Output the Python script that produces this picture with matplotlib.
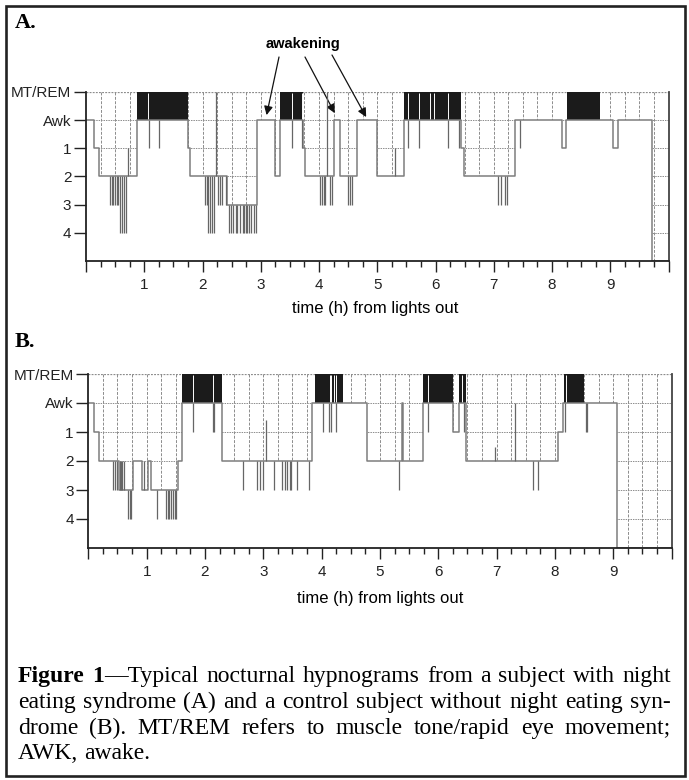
import numpy as np
import matplotlib
matplotlib.use('Agg')
import matplotlib.pyplot as plt
from matplotlib.patches import Rectangle

plt.rcParams['font.family'] = ['Liberation Sans', 'DejaVu Sans']

# ---------------- data ----------------
hour_ticks = [1, 2, 3, 4, 5, 6, 7, 8, 9]
stage_levels = [-1, 0, 1, 2, 3, 4]
stage_labels = ['MT/REM', 'Awk', '1', '2', '3', '4']

# Panel A (night eating syndrome): hypnogram change points (h), stage (0 = Awk / REM baseline, 5 = end)
a_time = [0.00, 0.13, 0.22, 0.88, 1.75, 1.79, 2.42, 2.94, 3.25, 3.33, 3.73, 3.76, 4.25, 4.36,
          4.66, 4.99, 5.46, 6.43, 6.49, 7.36, 8.17, 8.24, 9.05, 9.13, 9.71, 10.0]
a_stage = [0, 1, 2, 0, 1, 2, 3, 0, 2, 0, 1, 2, 0, 2,
           0, 2, 0, 1, 2, 0, 1, 0, 1, 0, 5, 5]
a_rem_start = [0.88, 3.33, 5.46, 8.25]
a_rem_end = [1.75, 3.73, 6.43, 8.82]
a_rem_gap = [1.06, 3.53, 3.70, 5.52, 5.72, 5.91, 5.97, 6.21]
a_spike_time = [0.41, 0.44, 0.47, 0.50, 0.53, 0.55, 0.59, 0.62, 0.66, 0.69, 0.72,
                1.08, 1.26,
                2.04, 2.07, 2.10, 2.13, 2.17, 2.20, 2.23, 2.27, 2.30, 2.34, 2.40,
                2.45, 2.49, 2.53, 2.57, 2.60, 2.64, 2.70, 2.72, 2.74, 2.76, 2.80, 2.84, 2.88, 2.92,
                3.53, 3.70,
                4.02, 4.05, 4.08, 4.10, 4.14, 4.19, 4.22, 4.50, 4.53, 4.57, 5.30,
                5.52, 5.72, 6.21, 6.40,
                7.08, 7.12, 7.19, 7.22, 7.45]
a_spike_to = [3, 3, 3, 3, 3, 3, 4, 4, 4, 4, 1,
              1, 1,
              3, 3, 4, 4, 4, 4, -1, 3, 3, 3, 3,
              4, 4, 4, 4, 4, 4, 4, 4, 4, 4, 4, 4, 4, 4,
              1, 1,
              3, 3, 3, 3, -1, 3, 3, 3, 3, 3, 1,
              1, 1, 1, 1,
              3, 3, 3, 3, 1]

# Panel B (control subject)
b_time = [0.00, 0.10, 0.19, 0.52, 0.76, 0.92, 1.03, 1.08, 1.53, 1.60, 2.29, 3.84, 4.77,
          5.37, 5.40, 5.73, 6.26, 6.36, 6.48, 8.06, 8.13, 9.06, 10.0]
b_stage = [0, 1, 2, 3, 2, 3, 2, 3, 2, 0, 2, 0, 2,
           0, 2, 0, 1, 0, 2, 1, 0, 5, 5]
b_rem_start = [1.60, 3.89, 5.73, 6.36, 8.16]
b_rem_end = [2.29, 4.37, 6.26, 6.48, 8.50]
b_rem_gap = [1.80, 2.14, 4.14, 4.16, 4.21, 4.24, 5.83, 6.41, 8.19]
b_spike_time = [0.43, 0.46, 0.49, 0.54, 0.56, 0.58, 0.61, 0.68, 0.71, 0.73, 0.95,
                1.18, 1.33, 1.36, 1.39, 1.42, 1.45, 1.48, 1.51,
                1.80, 2.14, 2.16,
                2.65, 2.90, 2.94, 2.99, 3.05, 3.19, 3.32, 3.37, 3.41, 3.46, 3.48, 3.57, 3.79,
                4.02, 4.13, 4.16, 4.25,
                5.33, 5.83, 6.44,
                6.97, 7.31, 7.63, 7.71, 8.18, 8.53, 8.55]
b_spike_to = [3, 3, 3, 2, 2, 2, 2, 4, 4, 4, 2,
              4, 4, 4, 4, 4, 4, 4, 4,
              1, 1, 1,
              3, 3, 3, 3, 0.6, 3, 3, 3, 3, 3, 3, 3, 3,
              1, 1, 1, 1,
              3, 1, 1,
              1.5, 0, 3, 3, 1, 1, 1]

caption_lines = [
    "Figure 1\u2014Typical nocturnal hypnograms from a subject with night",
    "eating syndrome (A) and a control subject without night eating syn-",
    "drome (B). MT/REM refers to muscle tone/rapid eye movement;",
    "AWK, awake.",
]
caption_bold = "Figure 1"

# ---------------- figure ----------------
W, H = 689, 780
fig = plt.figure(figsize=(W / 100, H / 100), dpi=100)
fig.patch.set_facecolor('white')


def px_axes(left, right, top, bottom):
    return fig.add_axes([left / W, 1 - bottom / H, (right - left) / W, (bottom - top) / H])


GRID = '#8c8c8c'


def draw_hypnogram(ax, t, s, rs, re, gaps, spt, spto):
    t = np.asarray(t, float)
    s = np.asarray(s, float)
    ax.set_xlim(0, 10)
    ax.set_ylim(5, -1)
    region = ax.fill_between(t, -1, s, step='post', facecolor='white',
                             edgecolor='none', zorder=1)
    clip = region.get_paths()[0]
    quarters = np.arange(0.25, 10, 0.25)
    vl = ax.vlines(quarters, -1, 5, colors=GRID, linestyles=(0, (3, 1.5)), lw=0.7, zorder=2)
    hl = ax.hlines([0, 1, 2, 3, 4], 0, 10, colors=GRID, linestyles=(0, (1.5, 1)), lw=0.7, zorder=2)
    for c in (vl, hl):
        c.set_clip_path(clip, ax.transData)
    ax.hlines(-1, 0, 10, colors=GRID, linestyles=(0, (1.5, 1)), lw=0.9, zorder=2)
    ax.broken_barh([(a, b - a) for a, b in zip(rs, re)], (-1, 1),
                   facecolors='#1b1b1b', edgecolor='none', zorder=3)
    ax.vlines(gaps, -0.97, 0, colors='white', lw=0.7, zorder=3.5)
    ax.step(t, s, where='post', color='#7d7d7d', lw=1.1, zorder=4)
    spt = np.asarray(spt, float)
    idx = np.searchsorted(t, spt, side='right') - 1
    ax.vlines(spt, s[idx], spto, colors='#666666', lw=0.9, zorder=4)

    ax.spines['top'].set_visible(False)
    for side in ('left', 'bottom', 'right'):
        ax.spines[side].set_linewidth(1.3)
        ax.spines[side].set_color('#222222')
        ax.spines[side].set_zorder(5)
    ax.spines['right'].set_color('#444444')
    ax.set_yticks(stage_levels, stage_labels)
    ax.tick_params(axis='y', direction='out', length=9, width=1, pad=1.5,
                   labelsize=11, colors='#222222')
    ax.set_xticks(range(0, 11))
    ax.set_xticklabels([str(h) if h in hour_ticks else '' for h in range(0, 11)])
    ax.set_xticks(np.arange(0, 10.01, 0.25), minor=True)
    ax.tick_params(axis='x', which='major', direction='out', length=8, width=1, pad=4,
                   labelsize=11, colors='#222222')
    ax.tick_params(axis='x', which='minor', direction='out', length=4, width=1,
                   colors='#222222')


axA = px_axes(86, 668.5, 92, 261)
draw_hypnogram(axA, a_time, a_stage, a_rem_start, a_rem_end, a_rem_gap, a_spike_time, a_spike_to)
axB = px_axes(88.3, 671.6, 374, 548)
draw_hypnogram(axB, b_time, b_stage, b_rem_start, b_rem_end, b_rem_gap, b_spike_time, b_spike_to)

fig.text(375 / W, 1 - 309 / H, 'time (h) from lights out', ha='center', va='center', fontsize=12)
fig.text(380 / W, 1 - 598 / H, 'time (h) from lights out', ha='center', va='center', fontsize=12)

serif = ['Liberation Serif', 'DejaVu Serif']
fig.text(15 / W, 1 - 28 / H, 'A.', family=serif, fontweight='bold', fontsize=16, va='baseline')
fig.text(15 / W, 1 - 347 / H, 'B.', family=serif, fontweight='bold', fontsize=16, va='baseline')

# awakening annotation
fig.text(303 / W, 1 - 44 / H, 'awakening', ha='center', va='center', fontsize=10.5,
         fontweight='bold')
arrow_tips = [(3.10, -0.18), (4.27, -0.25), (4.81, -0.11)]
arrow_tails = [(279, 57), (305, 57), (332, 55)]
for (tx, ty), (sx, sy) in zip(arrow_tips, arrow_tails):
    axA.annotate('', xy=(tx, ty), xycoords='data', xytext=(sx, H - sy),
                 textcoords='figure pixels', annotation_clip=False,
                 arrowprops=dict(arrowstyle='-|>', color='#111111', lw=0.9,
                                 mutation_scale=13, shrinkA=0, shrinkB=0))

# frame
fig.patches.append(Rectangle((5.5 / W, 4.5 / H), 679 / W, 770 / H, transform=fig.transFigure,
                             fill=False, edgecolor='#222222', lw=1.9))

# caption, justified
renderer = fig.canvas.get_renderer()
x0, x1 = 18, 671
baselines = [682, 708, 734, 759]
fs = 17
sp_a = fig.text(0, 0, 'a a', family=serif, fontsize=fs)
sp_b = fig.text(0, 0, 'aa', family=serif, fontsize=fs)
space = sp_a.get_window_extent(renderer).width - sp_b.get_window_extent(renderer).width
sp_a.remove()
sp_b.remove()
for li, line in enumerate(caption_lines):
    words = line.split(' ')
    pos = 0
    word_objs = []
    for w in words:
        runs = []
        cur = ''
        cur_b = None
        for k, ch in enumerate(w):
            b = (li == 0 and pos + k < len(caption_bold))
            if cur_b is None or b == cur_b:
                cur += ch
                cur_b = b
            else:
                runs.append((cur, cur_b))
                cur, cur_b = ch, b
        runs.append((cur, cur_b))
        pos += len(w) + 1
        objs = []
        for txt, b in runs:
            o = fig.text(0, 1 - baselines[li] / H, txt, family=serif, fontsize=fs,
                         fontweight='bold' if b else 'normal', va='baseline', ha='left')
            wd = o.get_window_extent(renderer).width
            objs.append((o, wd))
        word_objs.append(objs)
    widths = [sum(wd for _, wd in objs) for objs in word_objs]
    if li < len(caption_lines) - 1 and len(words) > 1:
        gap = (x1 - x0 - sum(widths)) / (len(words) - 1)
    else:
        gap = space
    x = x0
    for objs, wdt in zip(word_objs, widths):
        xx = x
        for o, wd in objs:
            o.set_x(xx / W)
            xx += wd
        x += wdt + gap

fig.savefig('out.png', dpi=100, facecolor='white')
